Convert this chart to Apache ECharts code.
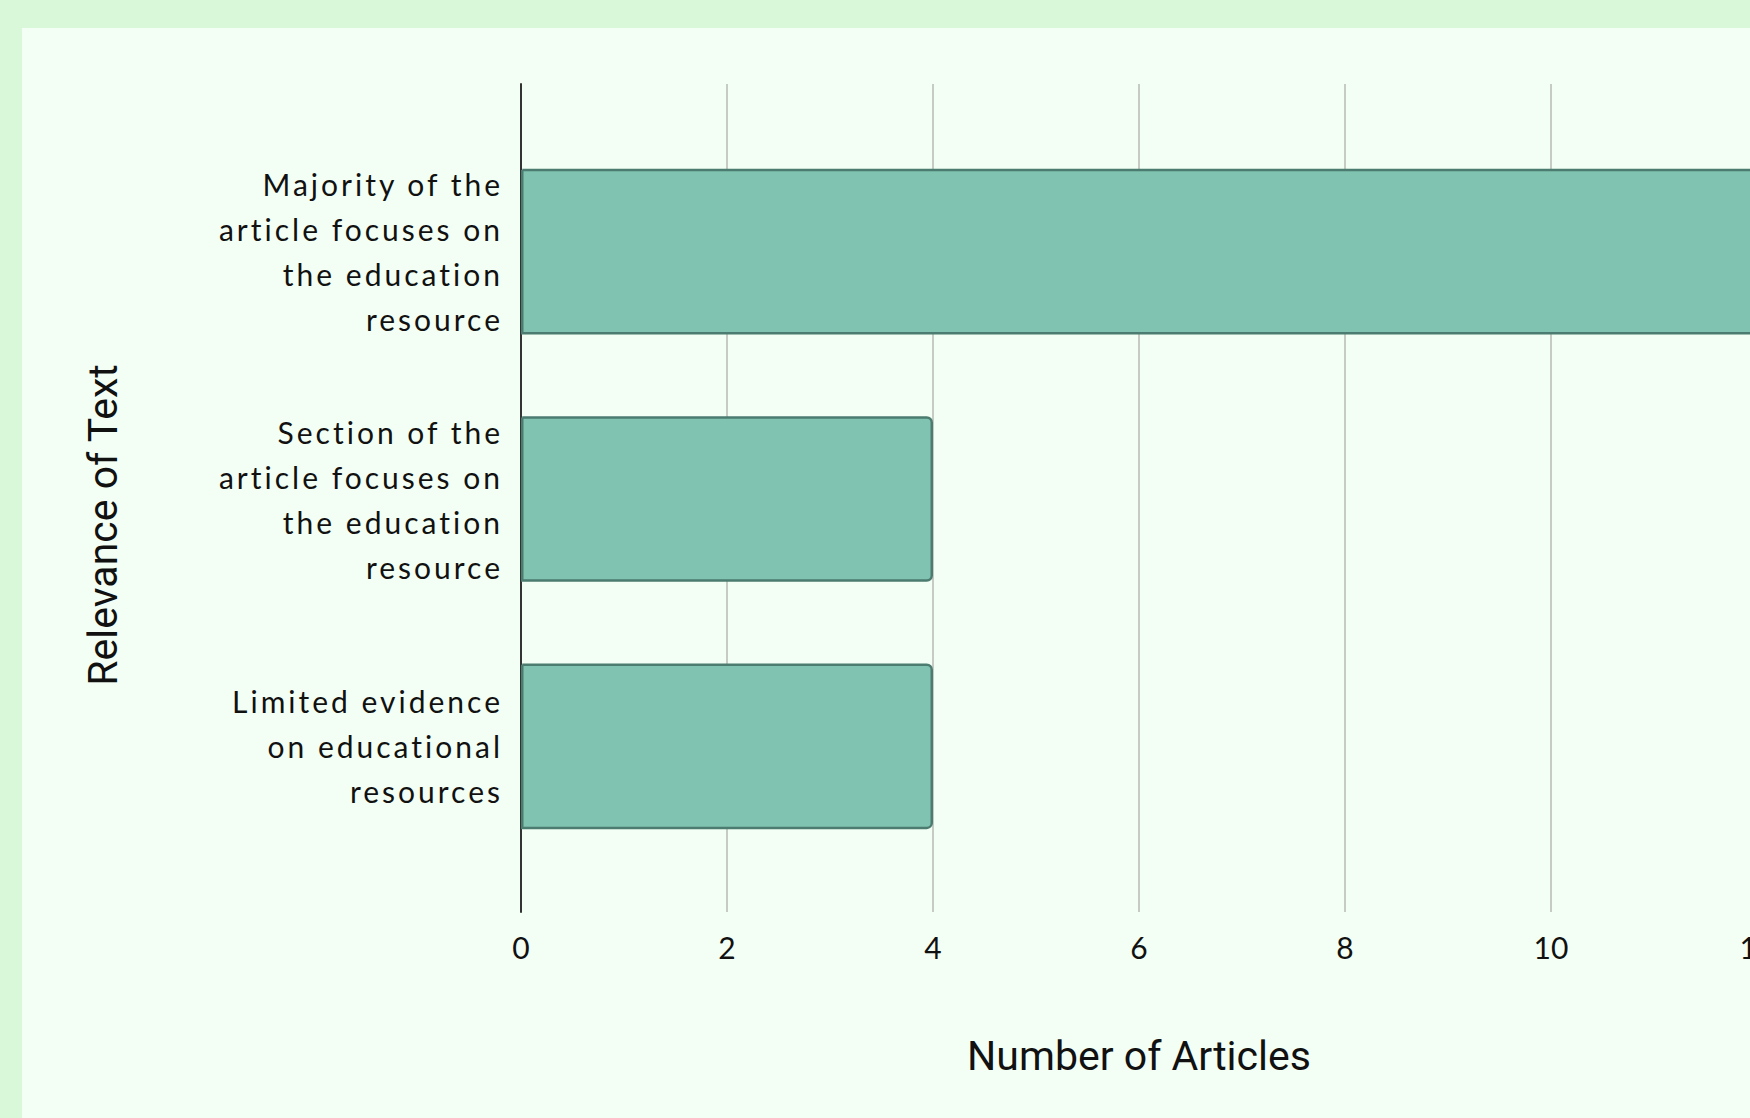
<!DOCTYPE html>
<html>
<head>
<meta charset="utf-8">
<script src="https://cdn.jsdelivr.net/npm/echarts@6/dist/echarts.min.js"></script>
<style>
  html, body { margin: 0; padding: 0; width: 1750px; height: 1118px; overflow: hidden; background: #d9f7d9; }
  #panel { position: absolute; left: 22px; top: 28px; width: 1900px; height: 1200px; background: #f3fff4; }
  #chart { position: absolute; left: 0; top: 0; width: 1800px; height: 1118px; }
  #chart text[style*="sans-serif"] { letter-spacing: 3px; }
</style>
</head>
<body>
<div id="panel"></div>
<div id="chart"></div>
<script>
const categories = [
  "Majority of the\narticle focuses on\nthe education\nresource",
  "Section of the\narticle focuses on\nthe education\nresource",
  "Limited evidence\non educational\nresources"
];
const articleCounts = [12, 4, 4];
const xTicks = [0, 2, 4, 6, 8, 10, 12];
const xAxisTitle = "Number of Articles";
const yAxisTitle = "Relevance of Text";

const chart = echarts.init(document.getElementById('chart'), null, { renderer: 'svg' });
const xMin = xTicks[0], xMax = xTicks[xTicks.length - 1], xStep = xTicks[1] - xTicks[0];

chart.setOption({
  backgroundColor: 'transparent',
  animation: false,
  grid: [
    { left: 521, top: 84, width: 1236, height: 828 },
    { left: 521, top: 128, width: 1236, height: 742 }
  ],
  xAxis: [
    {
      gridIndex: 0, type: 'value', min: xMin, max: xMax, interval: xStep,
      name: xAxisTitle, nameLocation: 'middle', nameGap: 123,
      nameTextStyle: { fontFamily: 'Roboto', fontSize: 41, color: '#111' },
      axisLine: { show: false }, axisTick: { show: false },
      axisLabel: { fontFamily: 'Lato', fontSize: 30, color: '#111', margin: 20 },
      splitLine: { show: true, lineStyle: { color: '#c6cbc4', width: 2 } }
    },
    {
      gridIndex: 1, type: 'value', min: xMin, max: xMax, interval: xStep,
      axisLine: { show: false }, axisTick: { show: false }, axisLabel: { show: false },
      splitLine: { show: false }
    }
  ],
  yAxis: [
    {
      gridIndex: 0, type: 'value', min: 0, max: 1,
      name: yAxisTitle, nameLocation: 'middle', nameGap: 398, nameRotate: 90,
      nameTextStyle: { fontFamily: 'Roboto', fontSize: 41, color: '#111', padding: [0, 54, 0, 0] },
      axisLine: { show: true, onZero: false, lineStyle: { color: '#333', width: 2 } },
      axisTick: { show: false }, axisLabel: { show: false }, splitLine: { show: false }
    },
    {
      gridIndex: 1, type: 'category', inverse: true, data: categories,
      axisLine: { show: false }, axisTick: { show: false },
      axisLabel: { fontFamily: 'Lato, sans-serif', fontSize: 30, lineHeight: 45, color: '#111', margin: 18, align: 'right', padding: [0, 0, 7, 0] }
    }
  ],
  series: [
    {
      type: 'bar', xAxisIndex: 1, yAxisIndex: 1, data: articleCounts,
      barCategoryGap: '33%',
      itemStyle: { color: '#7fc3b0', borderColor: '#4b7c6f', borderWidth: 2.5, borderRadius: [0, 5, 5, 0] }
    }
  ]
});
</script>
</body>
</html>
